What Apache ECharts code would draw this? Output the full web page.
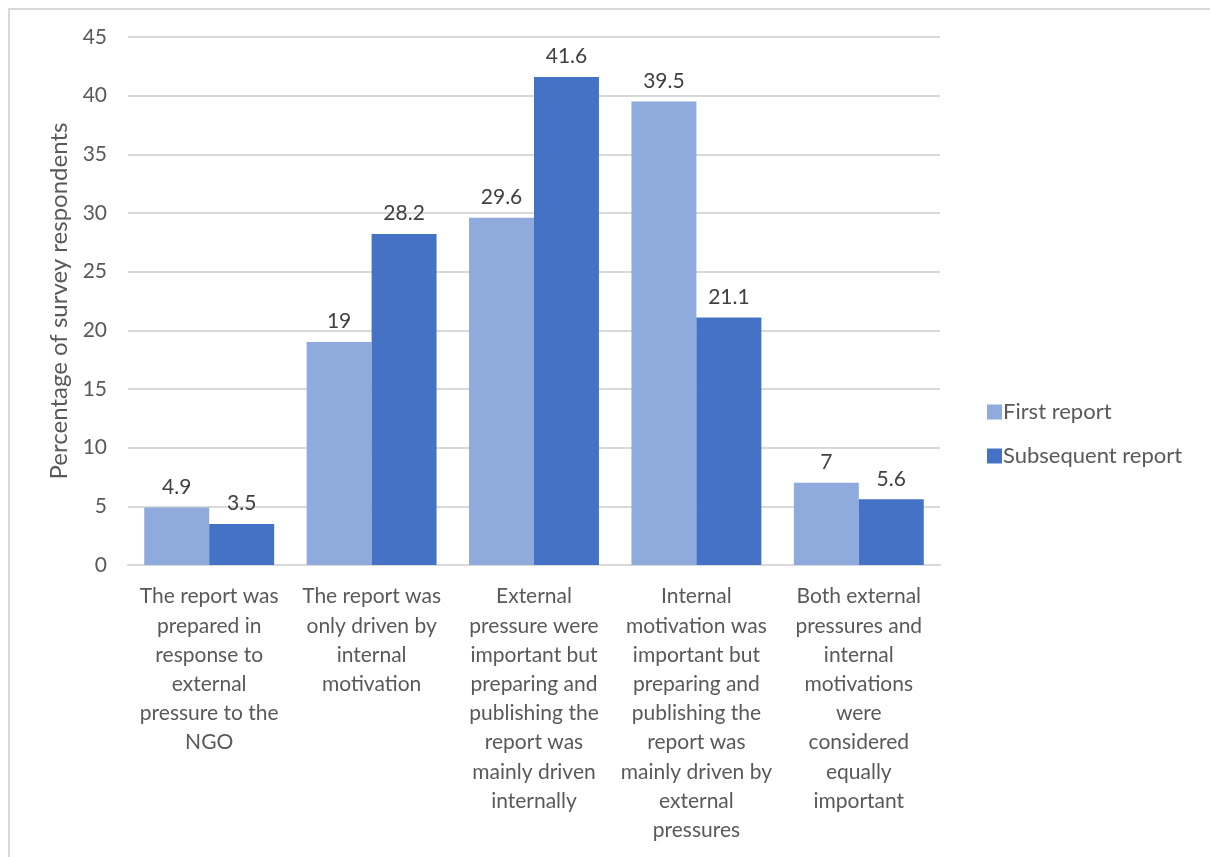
<!DOCTYPE html>
<html>
<head>
<meta charset="utf-8">
<script src="https://cdn.jsdelivr.net/npm/echarts@6/dist/echarts.min.js"></script>
<style>
  html, body { margin: 0; padding: 0; background: #fff; }
  #frame { position: absolute; left: 8px; top: 8px; width: 1210px; height: 857px;
           border-left: 2px solid #d9d9d9; border-top: 2px solid #d9d9d9; }
  #main { position: absolute; left: 0; top: 0; width: 1210px; height: 857px; }
</style>
</head>
<body>
<div id="frame"></div>
<div id="main"></div>
<script>
const categories = [
  'The report was\nprepared in\nresponse to\nexternal\npressure to the\nNGO',
  'The report was\nonly driven by\ninternal\nmotivation',
  'External\npressure were\nimportant but\npreparing and\npublishing the\nreport was\nmainly driven\ninternally',
  'Internal\nmotivation was\nimportant but\npreparing and\npublishing the\nreport was\nmainly driven by\nexternal\npressures',
  'Both external\npressures and\ninternal\nmotivations\nwere\nconsidered\nequally\nimportant'
]
const firstReport = [4.9, 19, 29.6, 39.5, 7]
const subsequentReport = [3.5, 28.2, 41.6, 21.1, 5.6]

const font = 'Lato'
const textColor = '#595959'

const labelStyle = {
  show: true,
  position: 'top',
  distance: 10,
  color: '#404040',
  fontFamily: font,
  fontSize: 21
}

const option = {
  animation: false,
  grid: { left: 128, right: 270, top: 37, bottom: 292 },
  legend: {
    orient: 'vertical',
    left: 982,
    top: 396,
    itemWidth: 15,
    itemHeight: 15,
    itemGap: 22,
    icon: 'rect',
    textStyle: { color: textColor, fontFamily: font, fontSize: 22, padding: [0, 0, 0, -4] },
    data: ['First report', 'Subsequent report']
  },
  xAxis: {
    type: 'category',
    data: categories,
    axisLine: { lineStyle: { color: '#d9d9d9', width: 2 } },
    axisTick: { show: false },
    axisLabel: {
      color: textColor,
      fontFamily: font,
      fontSize: 21,
      lineHeight: 29.2,
      margin: 17,
      interval: 0,
      align: 'center'
    }
  },
  yAxis: {
    type: 'value',
    min: 0,
    max: 45,
    interval: 5,
    name: 'Percentage of survey respondents',
    nameLocation: 'middle',
    nameGap: 56,
    nameTextStyle: { color: textColor, fontFamily: font, fontSize: 24 },
    axisLine: { show: false },
    axisTick: { show: false },
    axisLabel: { color: textColor, fontFamily: font, fontSize: 21, margin: 21 },
    splitLine: { lineStyle: { color: '#d9d9d9', width: 2 } }
  },
  series: [
    {
      name: 'First report',
      type: 'bar',
      data: firstReport,
      barWidth: '40%',
      barGap: '0%',
      itemStyle: { color: '#8faadc' },
      label: labelStyle
    },
    {
      name: 'Subsequent report',
      type: 'bar',
      data: subsequentReport,
      barWidth: '40%',
      barGap: '0%',
      itemStyle: { color: '#4472c4' },
      label: labelStyle
    }
  ]
}

const chart = echarts.init(document.getElementById('main'))
chart.setOption(option)
</script>
</body>
</html>
